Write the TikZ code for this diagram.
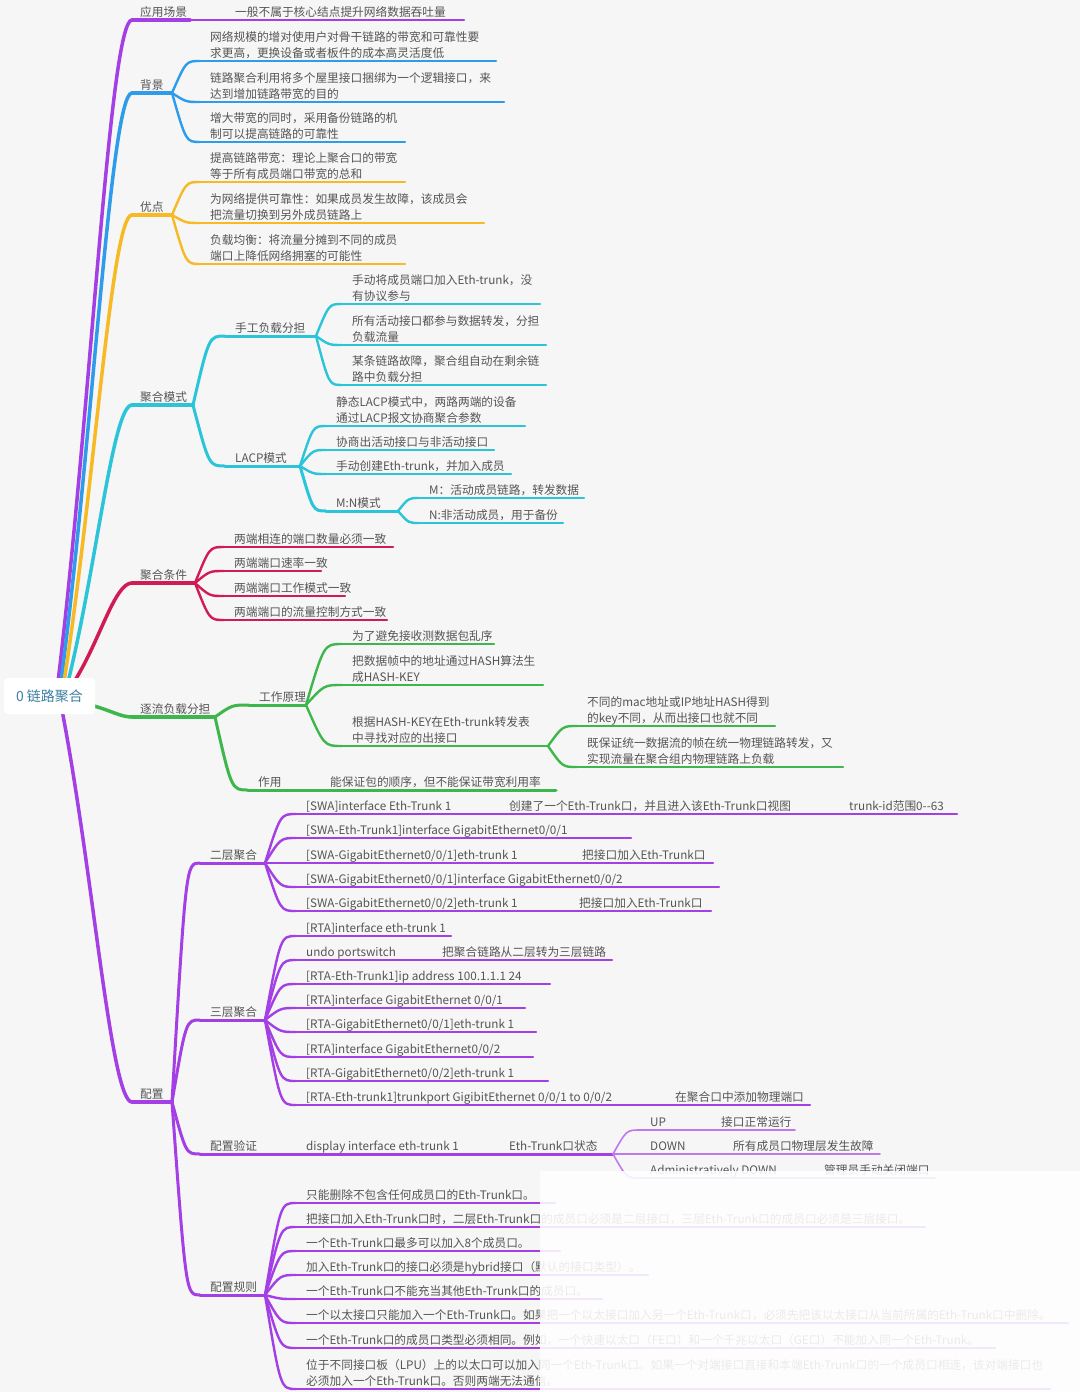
\documentclass[tikz,border=0pt]{standalone}
\usepackage{fontspec}
\setmainfont{Noto Sans CJK SC}
\usetikzlibrary{calc}
\definecolor{cPur}{HTML}{A43FE6}
\definecolor{cBlue}{HTML}{2E9CEB}
\definecolor{cYel}{HTML}{F7B924}
\definecolor{cCyan}{HTML}{2CC4D9}
\definecolor{cRed}{HTML}{D01B55}
\definecolor{cGreen}{HTML}{3DB74C}
\definecolor{cTxt}{HTML}{555555}
\definecolor{cBg}{HTML}{F5F6F5}
\definecolor{cRoot}{HTML}{3D7FA3}
\tikzset{
 txt/.style={anchor=base west, inner sep=0pt, text=cTxt, font=\fontsize{11.7}{16}\selectfont},
 itx/.style={txt, yshift=3.5pt},
 tk/.style={line width=3.5pt, line cap=round},
 br/.style={line width=3pt, line cap=round},
 lf/.style={line width=2.4pt, line cap=round},
 thin/.style={line width=1.6pt, line cap=round},
 rootbox/.style={fill=white, rounded corners=4pt, minimum width=91pt, minimum height=36pt, text=cRoot, font=\fontsize{14}{16}\selectfont, inner sep=0pt}
}
\newcommand{\mmtwo}[2]{\begin{tabular}[b]{@{}l@{}}#1\\#2\end{tabular}}
\newcommand{\mmcurve}[3]{\draw[#1] let \p1=(#2), \p2=(#3) in (#2) .. controls ({0.5*\x1+0.5*\x2},\y2) .. (#3);}
\newcommand{\mmtrunk}[3]{\draw[#1] let \p1=(#2), \p2=(#3) in (#2) .. controls ({\x1+0.45*(\x2-\x1)},{\y1+0.42*(\y2-\y1)}) and ({\x1+0.7*(\x2-\x1)},\y2) .. (#3);}
\newcommand{\mmleaf}[7]{%
 \coordinate (#1-s) at (#4,#5);
 \coordinate (#1-e) at (#6,#5);
 \mmcurve{#2}{#3}{#1-s}
 \draw[#2] (#1-s) -- (#1-e);
 \node[txt] (#1) at ([shift={(10pt,3.5pt)}]#1-s) {#7};}
\newcommand{\mmtop}[6]{% name, color, start, y, junction x, label
 \coordinate (#1-s) at (132,#4);
 \coordinate (#1-e) at (#5,#4);
 \mmtrunk{tk,#2}{#3}{#1-s}
 \draw[tk,#2] (#1-s) -- (#1-e);
 \node[txt] (#1) at ([shift={(8pt,3.5pt)}]#1-s) {#6};}
\begin{document}
\begin{tikzpicture}[x=1pt,y=-1pt]
\fill[cBg] (0,0) rectangle (1080,1392);
\useasboundingbox (0,0) rectangle (1080,1392);

% trunk start points on the root
\coordinate (ra) at (58,682);
\coordinate (rb) at (61,682);
\coordinate (rc) at (64,682);
\coordinate (rd) at (68,682);
\coordinate (re) at (74,682);
\coordinate (rf) at (94,706);
\coordinate (rg) at (62,710);

% 应用场景
\mmtop{A}{cPur}{ra}{20}{190}{应用场景}
\coordinate (A-f) at (464,20);
\draw[lf,cPur] (A-e) -- (A-f);
\node[itx] (A1) at (235,20) {一般不属于核心结点提升网络数据吞吐量};

% 背景
\mmtop{B}{cBlue}{rb}{93}{172}{背景}
\mmleaf{b1}{lf,cBlue}{B-e}{200}{61}{496}{\mmtwo{网络规模的增对使用户对骨干链路的带宽和可靠性要}{求更高，更换设备或者板件的成本高灵活度低}}
\mmleaf{b2}{lf,cBlue}{B-e}{200}{102}{504}{\mmtwo{链路聚合利用将多个屋里接口捆绑为一个逻辑接口，来}{达到增加链路带宽的目的}}
\mmleaf{b3}{lf,cBlue}{B-e}{200}{142}{405}{\mmtwo{增大带宽的同时，采用备份链路的机}{制可以提高链路的可靠性}}

% 优点
\mmtop{Y}{cYel}{rc}{215}{172}{优点}
\mmleaf{y1}{lf,cYel}{Y-e}{200}{182}{405}{\mmtwo{提高链路带宽：理论上聚合口的带宽}{等于所有成员端口带宽的总和}}
\mmleaf{y2}{lf,cYel}{Y-e}{200}{223}{484}{\mmtwo{为网络提供可靠性：如果成员发生故障，该成员会}{把流量切换到另外成员链路上}}
\mmleaf{y3}{lf,cYel}{Y-e}{200}{264}{405}{\mmtwo{负载均衡：将流量分摊到不同的成员}{端口上降低网络拥塞的可能性}}

% 聚合模式
\mmtop{M}{cCyan}{rd}{405}{193}{聚合模式}
\mmleaf{m1}{br,cCyan}{M-e}{225}{336}{316}{手工负载分担}
\mmleaf{m11}{lf,cCyan}{m1-e}{342}{304}{540}{\mmtwo{手动将成员端口加入Eth-trunk，没}{有协议参与}}
\mmleaf{m12}{lf,cCyan}{m1-e}{342}{345}{546}{\mmtwo{所有活动接口都参与数据转发，分担}{负载流量}}
\mmleaf{m13}{lf,cCyan}{m1-e}{342}{385}{546}{\mmtwo{某条链路故障，聚合组自动在剩余链}{路中负载分担}}
\mmleaf{m2}{br,cCyan}{M-e}{225}{466}{300}{LACP模式}
\mmleaf{m21}{lf,cCyan}{m2-e}{326}{426}{525}{\mmtwo{静态LACP模式中，两路两端的设备}{通过LACP报文协商聚合参数}}
\mmleaf{m22}{lf,cCyan}{m2-e}{326}{450}{494}{协商出活动接口与非活动接口}
\mmleaf{m23}{lf,cCyan}{m2-e}{326}{474}{511}{手动创建Eth-trunk，并加入成员}
\mmleaf{m24}{br,cCyan}{m2-e}{326}{511}{398}{M:N模式}
\mmleaf{m241}{lf,cCyan}{m24-e}{419}{498}{584}{M：活动成员链路，转发数据}
\mmleaf{m242}{lf,cCyan}{m24-e}{419}{523}{563}{N:非活动成员，用于备份}

% 聚合条件
\mmtop{C}{cRed}{re}{583}{195}{聚合条件}
\mmleaf{c1}{lf,cRed}{C-e}{224}{547}{393}{两端相连的端口数量必须一致}
\mmleaf{c2}{lf,cRed}{C-e}{224}{571}{321}{两端端口速率一致}
\mmleaf{c3}{lf,cRed}{C-e}{224}{596}{345}{两端端口工作模式一致}
\mmleaf{c4}{lf,cRed}{C-e}{224}{620}{387}{两端端口的流量控制方式一致}

% 逐流负载分担
\mmtop{G}{cGreen}{rf}{717}{215}{逐流负载分担}
\mmleaf{g1}{br,cGreen}{G-e}{249}{705}{306}{工作原理}
\mmleaf{g11}{lf,cGreen}{g1-e}{342}{644}{494}{为了避免接收测数据包乱序}
\mmleaf{g12}{lf,cGreen}{g1-e}{342}{685}{543}{\mmtwo{把数据帧中的地址通过HASH算法生}{成HASH-KEY}}
\mmleaf{g13}{lf,cGreen}{g1-e}{342}{746}{548}{\mmtwo{根据HASH-KEY在Eth-trunk转发表}{中寻找对应的出接口}}
\mmleaf{g131}{lf,cGreen}{g13-e}{577}{726}{775}{\mmtwo{不同的mac地址或IP地址HASH得到}{的key不同，从而出接口也就不同}}
\mmleaf{g132}{lf,cGreen}{g13-e}{577}{767}{843}{\mmtwo{既保证统一数据流的帧在统一物理链路转发，又}{实现流量在聚合组内物理链路上负载}}
\mmleaf{g2}{br,cGreen}{G-e}{248}{790}{556}{作用}
\node[itx] (g21) at (330,790) {能保证包的顺序，但不能保证带宽利用率};

% 配置
\mmtop{P}{cPur}{rg}{1102}{172}{配置}
\mmleaf{p1}{br,cPur}{P-e}{200}{863}{265}{二层聚合}
\mmleaf{p11}{lf,cPur}{p1-e}{296}{814}{957}{[SWA]interface Eth-Trunk 1}
\node[itx] (p11a) at (509,814) {创建了一个Eth-Trunk口，并且进入该Eth-Trunk口视图};
\node[itx] (p11b) at (849,814) {trunk-id范围0-{}-63};
\mmleaf{p12}{lf,cPur}{p1-e}{296}{838}{631}{[SWA-Eth-Trunk1]interface GigabitEthernet0/0/1}
\mmleaf{p13}{lf,cPur}{p1-e}{296}{863}{713}{[SWA-GigabitEthernet0/0/1]eth-trunk 1}
\node[itx] (p13a) at (582,863) {把接口加入Eth-Trunk口};
\mmleaf{p14}{lf,cPur}{p1-e}{296}{887}{719}{[SWA-GigabitEthernet0/0/1]interface GigabitEthernet0/0/2}
\mmleaf{p15}{lf,cPur}{p1-e}{296}{911}{711}{[SWA-GigabitEthernet0/0/2]eth-trunk 1}
\node[itx] (p15a) at (579,911) {把接口加入Eth-Trunk口};

\mmleaf{p2}{br,cPur}{P-e}{200}{1020}{265}{三层聚合}
\mmleaf{p21}{lf,cPur}{p2-e}{296}{936}{451}{[RTA]interface eth-trunk 1}
\mmleaf{p22}{lf,cPur}{p2-e}{296}{960}{612}{undo portswitch}
\node[itx] (p22a) at (442,960) {把聚合链路从二层转为三层链路};
\mmleaf{p23}{lf,cPur}{p2-e}{296}{984}{550}{[RTA-Eth-Trunk1]ip address 100.1.1.1 24}
\mmleaf{p24}{lf,cPur}{p2-e}{296}{1008}{525}{[RTA]interface GigabitEthernet 0/0/1}
\mmleaf{p25}{lf,cPur}{p2-e}{296}{1032}{536}{[RTA-GigabitEthernet0/0/1]eth-trunk 1}
\mmleaf{p26}{lf,cPur}{p2-e}{296}{1057}{533}{[RTA]interface GigabitEthernet0/0/2}
\mmleaf{p27}{lf,cPur}{p2-e}{296}{1081}{548}{[RTA-GigabitEthernet0/0/2]eth-trunk 1}
\mmleaf{p28}{lf,cPur}{p2-e}{296}{1105}{810}{[RTA-Eth-trunk1]trunkport GigibitEthernet 0/0/1 to 0/0/2}
\node[itx] (p28a) at (675,1105) {在聚合口中添加物理端口};

\mmleaf{p3}{br,cPur}{P-e}{200}{1154}{613}{配置验证}
\node[itx] (p3a) at (306,1154) {display interface eth-trunk 1};
\node[itx] (p3b) at (509,1154) {Eth-Trunk口状态};
\mmleaf{p31}{thin,cPur!70}{p3-e}{640}{1130}{795}{UP}
\node[itx] (p31a) at (721,1130) {接口正常运行};
\mmleaf{p32}{thin,cPur!70}{p3-e}{640}{1154}{880}{DOWN}
\node[itx] (p32a) at (733,1154) {所有成员口物理层发生故障};
\mmleaf{p33}{thin,cPur!70}{p3-e}{640}{1178}{935}{Administratively DOWN}
\node[itx] (p33a) at (824,1178) {管理员手动关闭端口};

\mmleaf{p4}{br,cPur}{P-e}{200}{1295}{265}{配置规则}
\mmleaf{p41}{lf,cPur}{p4-e}{296}{1203}{555}{只能删除不包含任何成员口的Eth-Trunk口。}
\mmleaf{p42}{lf,cPur}{p4-e}{296}{1227}{925}{把接口加入Eth-Trunk口时，二层Eth-Trunk口的成员口必须是二层接口，三层Eth-Trunk口的成员口必须是三层接口。}
\mmleaf{p43}{lf,cPur}{p4-e}{296}{1251}{560}{一个Eth-Trunk口最多可以加入8个成员口。}
\mmleaf{p44}{lf,cPur}{p4-e}{296}{1275}{648}{加入Eth-Trunk口的接口必须是hybrid接口（默认的接口类型）。}
\mmleaf{p45}{lf,cPur}{p4-e}{296}{1299}{602}{一个Eth-Trunk口不能充当其他Eth-Trunk口的成员口。}
\mmleaf{p46}{lf,cPur}{p4-e}{296}{1323}{1068}{一个以太接口只能加入一个Eth-Trunk口。如果把一个以太接口加入另一个Eth-Trunk口，必须先把该以太接口从当前所属的Eth-Trunk口中删除。}
\mmleaf{p47}{lf,cPur}{p4-e}{296}{1348}{995}{一个Eth-Trunk口的成员口类型必须相同。例如，一个快速以太口（FE口）和一个千兆以太口（GE口）不能加入同一个Eth-Trunk。}
\mmleaf{p48}{lf,cPur}{p4-e}{296}{1389}{1050}{\mmtwo{位于不同接口板（LPU）上的以太口可以加入同一个Eth-Trunk口。如果一个对端接口直接和本端Eth-Trunk口的一个成员口相连，该对端接口也}{必须加入一个Eth-Trunk口。否则两端无法通信。}}

% root
\node[rootbox] (root) at (49.5,696) {0 链路聚合};

% white overlay
\fill[white, opacity=0.88] (540,1171) rectangle (1080,1392);
\end{tikzpicture}
\end{document}
